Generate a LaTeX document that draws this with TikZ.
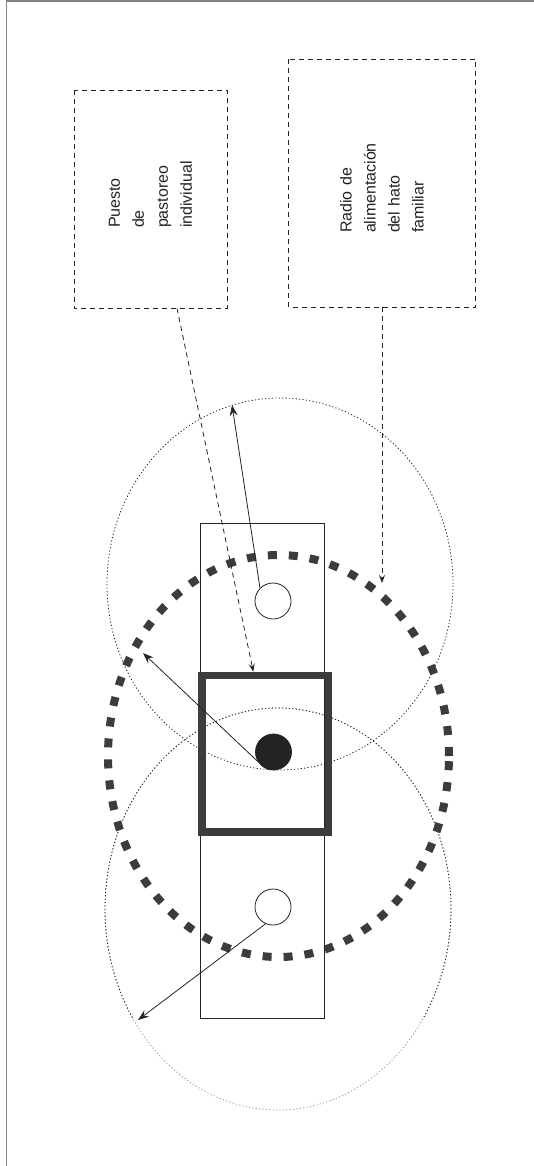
\documentclass[tikz,border=0pt]{standalone}
\usepackage{fontspec}
\setmainfont{Liberation Sans}
\usepackage{tikz}
\usetikzlibrary{arrows.meta,positioning,calc}
\usepackage{xcolor}
\definecolor{inkcol}{RGB}{35,35,35}
\definecolor{wallcol}{RGB}{60,60,60}
\definecolor{framecol}{RGB}{130,130,130}
\definecolor{fadecol}{RGB}{150,150,150}
\tikzset{
  % dashed label box, text turned to read upwards
  lbox/.style={rectangle, draw=inkcol, line width=0.8pt, dash pattern=on 5pt off 4pt, rotate=90,
               align=left, inner sep=0pt, text=inkcol, font=\fontsize{16}{24}\selectfont},
  % feeding radius of one stall (fine dots)
  reach/.style={draw=inkcol, line width=0.8pt, dash pattern=on 1.2pt off 2.2pt},
  % feeding radius of the family herd
  herdring/.style={draw=wallcol, line width=8pt, dash pattern=on 9pt off 12pt},
  % individual grazing post
  post/.style={circle, draw=inkcol, line width=0.8pt, fill=white, minimum size=36pt, inner sep=0pt},
  % heavy pen wall
  penwall/.style={rectangle, draw=wallcol, line width=7.5pt, minimum width=126.7pt,
                  minimum height=156.5pt, inner sep=0pt},
  % solid radius arrow
  reacharrow/.style={-{Stealth[length=11pt,width=8pt,inset=4pt]}, inkcol, line width=0.8pt},
  % dashed pointer from a label
  pointer/.style={-{Stealth[length=8pt,width=6pt,inset=3pt]}, inkcol, line width=0.8pt,
                  dash pattern=on 5pt off 4pt},
}

\begin{document}
\begin{tikzpicture}[x=1pt,y=-1pt]
  \useasboundingbox (0,0) rectangle (534,1166);
  % page frame
  \draw[framecol, line width=1.5pt] (6.5,1166) -- (6.5,1) -- (534,1);

  % radii of the outer posts
  \draw[reach] (280,584) ellipse [x radius=173pt, y radius=186pt];
  \draw[reach, draw=fadecol] (278,909) ellipse [x radius=173pt, y radius=201pt];
  \begin{scope}
    \clip (0,0) rectangle (534,1018);
    \draw[reach] (278,909) ellipse [x radius=173pt, y radius=201pt];
  \end{scope}

  % radius of the herd
  \draw[herdring] (278.5,756) ellipse [x radius=170.5pt, y radius=201pt];

  % strip of posts and the pen
  \draw[inkcol, line width=0.8pt] (200,523) rectangle (324.5,1018);
  \node[penwall] (pen) at (265.3,753.7) {};

  % posts
  \node[post] (uc) at (273,601) {};
  \node[post, fill=inkcol] (fc) at (273.5,752) {};
  \node[post] (lc) at (273,907) {};

  % arrow ends
  \coordinate (t1) at (232,405);
  \coordinate (t2) at (143,653);
  \coordinate (t3) at (138,1020);
  \coordinate (t4) at (382,583);

  \draw[reacharrow] (uc.135) -- (t1);
  \draw[reacharrow] (fc.211) -- (t2);
  \draw[reacharrow] (lc.246) -- (t3);

  % labels
  \node[lbox, minimum width=218pt, minimum height=153pt, text width=58pt] (pbox) at (150.5,199)
    {Puesto\\de\\pastoreo\\individual};
  \node[lbox, minimum width=248pt, minimum height=187pt, text width=100pt] (rbox) at (382,183)
    {Radio de\\alimentación\\del hato\\familiar};

  \draw[pointer] ([xshift=26.5pt]pbox.west) -- ([xshift=-12pt]pen.north);
  \draw[pointer] (rbox.west) -- (t4);
\end{tikzpicture}
\end{document}
